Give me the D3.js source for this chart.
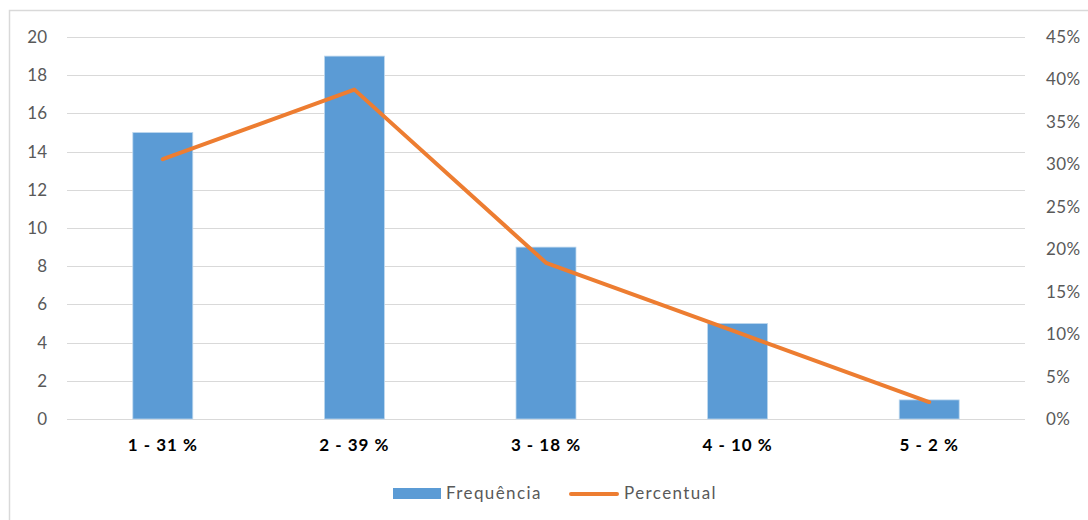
<!DOCTYPE html>
<html>
<head>
<meta charset="utf-8">
<script src="https://cdn.jsdelivr.net/npm/d3@7"></script>
<style>
  html, body { margin: 0; padding: 0; background: #fff; }
  svg { display: block; }
</style>
</head>
<body>
<svg id="chart" width="1088" height="520"></svg>
<script>
// Categories (class - share) and series
const categories = ["1 - 31 %", "2 - 39 %", "3 - 18 %", "4 - 10 %", "5 - 2 %"];
const frequencia = [15, 19, 9, 5, 1];
const percentual = [0.306, 0.388, 0.184, 0.102, 0.020];
const leftTicks = [0, 2, 4, 6, 8, 10, 12, 14, 16, 18, 20];
const rightTicks = [0, 0.05, 0.10, 0.15, 0.20, 0.25, 0.30, 0.35, 0.40, 0.45];
const seriesNames = ["Frequência", "Percentual"];

const svg = d3.select("#chart");
const W = 1088, H = 520;
const font = "Lato, 'Open Sans', sans-serif";
const plot = { left: 67, right: 1025, top: 37, bottom: 419 };

// outer frame
svg.append("rect")
  .attr("x", 9.5).attr("y", 10.5)
  .attr("width", W + 10).attr("height", H + 10)
  .attr("fill", "#fff").attr("stroke", "#d9d9d9").attr("stroke-width", 1.5);

const x = d3.scaleBand().domain(categories).range([plot.left, plot.right]).paddingInner(0.687).paddingOuter(0.3435);
const yL = d3.scaleLinear().domain([0, 20]).range([plot.bottom, plot.top]);
const yR = d3.scaleLinear().domain([0, 0.45]).range([plot.bottom, plot.top]);

// gridlines
svg.append("g").selectAll("line").data(leftTicks).join("line")
  .attr("x1", plot.left).attr("x2", plot.right)
  .attr("y1", d => Math.round(yL(d)) + 0.5).attr("y2", d => Math.round(yL(d)) + 0.5)
  .attr("stroke", "#d9d9d9").attr("stroke-width", 1);

// left axis
const axL = svg.append("g").attr("transform", `translate(${plot.left},0)`)
  .call(d3.axisLeft(yL).tickValues(leftTicks).tickSize(0).tickPadding(20).tickFormat(d3.format("d")));
axL.select(".domain").remove();
axL.selectAll("text").attr("fill", "#595959").attr("font-size", 17).attr("font-family", font);

// right axis
const axR = svg.append("g").attr("transform", `translate(${plot.right},0)`)
  .call(d3.axisRight(yR).tickValues(rightTicks).tickSize(0).tickPadding(21).tickFormat(d3.format(".0%")));
axR.select(".domain").remove();
axR.selectAll("text").attr("fill", "#595959").attr("font-size", 17).attr("font-family", font)
  .attr("letter-spacing", 0.4);

// bars
svg.append("g").selectAll("rect").data(frequencia).join("rect")
  .attr("x", (d, i) => x(categories[i]))
  .attr("width", x.bandwidth())
  .attr("y", d => yL(d))
  .attr("height", d => yL(0) - yL(d))
  .attr("fill", "#5b9bd5")
  .attr("stroke", "#bdd7ee").attr("stroke-width", 0.8);

// category labels
const axB = svg.append("g").attr("transform", `translate(0,${plot.bottom})`)
  .call(d3.axisBottom(x).tickSize(0).tickPadding(20));
axB.select(".domain").remove();
axB.selectAll("text").attr("fill", "#000").attr("font-size", 17).attr("font-weight", "bold")
  .attr("font-family", font).attr("letter-spacing", 1);

// percent line
const line = d3.line()
  .x((d, i) => x(categories[i]) + x.bandwidth() / 2)
  .y(d => yR(d));
svg.append("path").datum(percentual)
  .attr("d", line).attr("fill", "none")
  .attr("stroke", "#ed7d31").attr("stroke-width", 4).attr("stroke-linejoin", "round").attr("stroke-linecap", "round");

// legend
const lg = svg.append("g").attr("font-family", font).attr("font-size", 17).attr("fill", "#595959")
  .attr("letter-spacing", 1.4);
lg.append("rect").attr("x", 393).attr("y", 488).attr("width", 48).attr("height", 11).attr("fill", "#5b9bd5");
lg.append("text").attr("x", 446).attr("y", 499).text(seriesNames[0]);
lg.append("line").attr("x1", 571).attr("x2", 617).attr("y1", 494).attr("y2", 494)
  .attr("stroke", "#ed7d31").attr("stroke-width", 4).attr("stroke-linecap", "round");
lg.append("text").attr("x", 624).attr("y", 499).text(seriesNames[1]);
</script>
</body>
</html>
